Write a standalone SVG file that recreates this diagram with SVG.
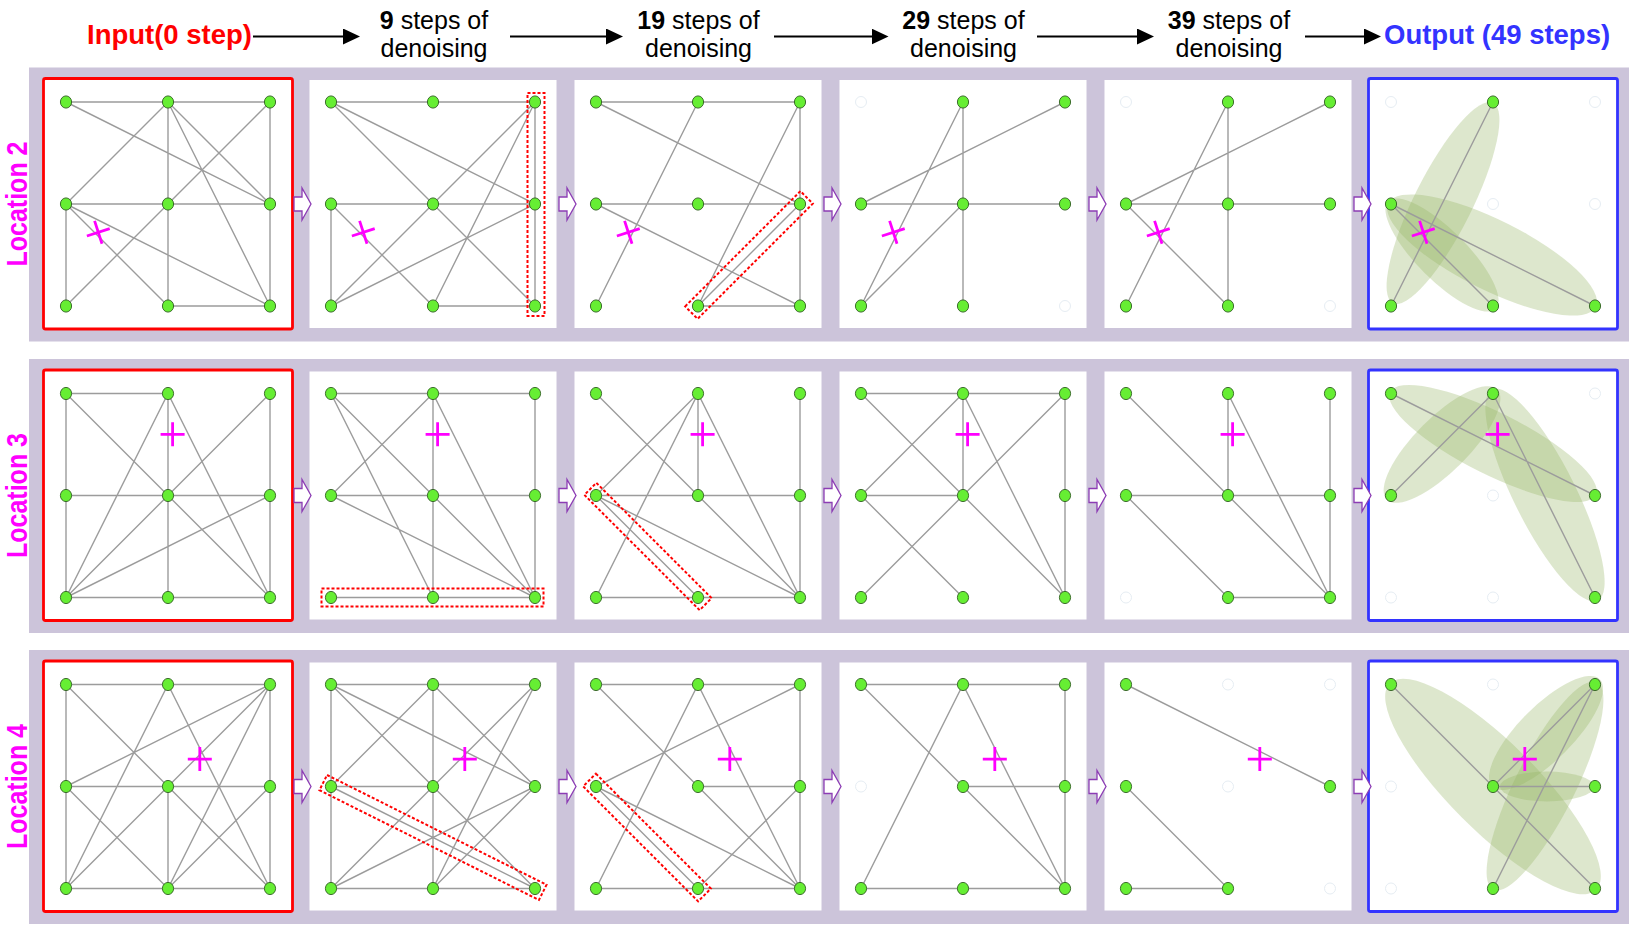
<svg xmlns="http://www.w3.org/2000/svg" xmlns:xlink="http://www.w3.org/1999/xlink" width="1638" height="929" viewBox="0 0 1638 929">
<style>
.band{fill:#ccc4da}
.pw{fill:#fff}
.fr{fill:#fff;stroke:#ff0000;stroke-width:2.8}
.fb{fill:#fff;stroke:#3333ff;stroke-width:2.8}
.e{fill:none;stroke:#9c9c9c;stroke-width:1.4}
.nd{fill:#66ee33;stroke:#2f5f1f;stroke-width:0.9}
.gh{fill:none;stroke:#e6edf3;stroke-width:1}
.cr{fill:none;stroke:#ff00ff;stroke-width:2.8}
.db{fill:none;stroke:#ff0000;stroke-width:2;stroke-dasharray:3 2}
.el{fill:#96b464;fill-opacity:.32}
.pa{fill:#fff;stroke:#8c3cb4;stroke-width:1.3}
.hr{font-family:"Liberation Sans",Arial,sans-serif;font-size:25px;fill:#000}
.hb{font-family:"Liberation Sans",Arial,sans-serif;font-size:27.5px;font-weight:bold}
.loc{font-family:"Liberation Sans",Arial,sans-serif;font-size:25px;font-weight:bold;fill:#ff00ff}
.ar{stroke:#000;stroke-width:2;fill:none}
</style>
<defs>
<marker id="ah" markerUnits="userSpaceOnUse" viewBox="0 0 17 16" refX="11" refY="8" markerWidth="17" markerHeight="16" orient="auto"><path d="M0,0L17,8L0,16z" fill="#000"/></marker>
<ellipse id="n" rx="5.6" ry="6.1" class="nd"/>
<circle id="g" r="5.5" class="gh"/>
<g id="n9">
<use href="#n" x="0" y="0"/><use href="#n" x="102" y="0"/><use href="#n" x="204" y="0"/>
<use href="#n" x="0" y="102"/><use href="#n" x="102" y="102"/><use href="#n" x="204" y="102"/>
<use href="#n" x="0" y="204"/><use href="#n" x="102" y="204"/><use href="#n" x="204" y="204"/>
</g>
<path id="pl" d="M-12,0H12M0,-12V12" class="cr"/>
<path id="sa" d="M0,-7H8V-16L17,0L8,16V7H0Z" class="pa"/>
</defs>

<rect width="1638" height="929" fill="#fff"/>

<g id="bands">
<rect class="band" x="29" y="67.5" width="1600" height="274"/>
<rect class="band" x="29" y="359" width="1600" height="274"/>
<rect class="band" x="29" y="650" width="1600" height="274"/>
</g>

<g id="header">
<text class="hb" x="87" y="43.5" fill="#ff0000">Input(0 step)</text>
<text class="hr" x="434" y="28.5" text-anchor="middle"><tspan font-weight="bold">9</tspan> steps of</text>
<text class="hr" x="434" y="56.5" text-anchor="middle">denoising</text>
<text class="hr" x="698.5" y="28.5" text-anchor="middle"><tspan font-weight="bold">19</tspan> steps of</text>
<text class="hr" x="698.5" y="56.5" text-anchor="middle">denoising</text>
<text class="hr" x="963.5" y="28.5" text-anchor="middle"><tspan font-weight="bold">29</tspan> steps of</text>
<text class="hr" x="963.5" y="56.5" text-anchor="middle">denoising</text>
<text class="hr" x="1229" y="28.5" text-anchor="middle"><tspan font-weight="bold">39</tspan> steps of</text>
<text class="hr" x="1229" y="56.5" text-anchor="middle">denoising</text>
<text class="hb" x="1384" y="43.5" fill="#3333ff">Output (49 steps)</text>
</g>

<g id="labels">
<text class="loc" text-anchor="middle" transform="translate(26.5,204) rotate(-90) scale(1,1.2)">Location 2</text>
<text class="loc" text-anchor="middle" transform="translate(26.5,495.5) rotate(-90) scale(1,1.2)">Location 3</text>
<text class="loc" text-anchor="middle" transform="translate(26.5,786.5) rotate(-90) scale(1,1.2)">Location 4</text>
</g>

<!-- Row 1: Location 2 -->
<g id="r1p1" transform="translate(66,102)">
<rect class="fr" x="-22.5" y="-23.5" width="249" height="250.5" rx="2"/>
<path class="e" d="M0,0L204,0M0,0L204,102M102,0L0,102M102,0L102,204M102,0L204,102M102,0L204,204M204,0L0,204M204,0L204,204M0,102L204,102M0,102L0,204M0,102L102,204M0,102L204,204M102,204L204,204"/>
<use href="#n9"/>
<use href="#pl" transform="translate(32.3,130.3) rotate(-18)"/>
</g>
<g id="r1p2" transform="translate(331,102)">
<rect class="pw" x="-21.5" y="-22" width="247" height="248"/>
<path class="e" d="M0,0L204,0M0,0L204,204M0,0L204,102M204,0L0,204M204,0L102,204M204,0L204,204M0,102L204,102M0,102L0,204M0,102L102,204M204,102L0,204M102,204L204,204"/>
<use href="#n9"/>
<use href="#pl" transform="translate(32.3,130.3) rotate(-18)"/>
<rect class="db" x="196.5" y="-9" width="17" height="223"/>
</g>
<g id="r1p3" transform="translate(596,102)">
<rect class="pw" x="-21.5" y="-22" width="247" height="248"/>
<path class="e" d="M0,0L204,0M0,0L204,102M102,0L0,204M204,0L102,204M204,0L204,204M0,102L204,102M0,102L204,204M204,102L102,204M102,204L204,204"/>
<use href="#n9"/>
<use href="#pl" transform="translate(32.3,130.3) rotate(-18)"/>
<rect class="db" x="-81.5" y="-8.8" width="163" height="17.6" transform="translate(153,153) rotate(-45)"/>
</g>
<g id="r1p4" transform="translate(861,102)">
<rect class="pw" x="-21.5" y="-22" width="247" height="248"/>
<path class="e" d="M102,0L102,204M0,102L204,0M102,0L0,204M0,102L204,102M102,102L0,204"/>
<use href="#g" x="0" y="0"/><use href="#g" x="204" y="204"/>
<use href="#n" x="102" y="0"/><use href="#n" x="204" y="0"/><use href="#n" x="0" y="102"/><use href="#n" x="102" y="102"/><use href="#n" x="204" y="102"/><use href="#n" x="0" y="204"/><use href="#n" x="102" y="204"/>
<use href="#pl" transform="translate(32.3,130.3) rotate(-18)"/>
</g>
<g id="r1p5" transform="translate(1126,102)">
<rect class="pw" x="-21.5" y="-22" width="247" height="248"/>
<path class="e" d="M102,0L102,204M0,102L204,0M102,0L0,204M0,102L204,102M0,102L102,204"/>
<use href="#g" x="0" y="0"/><use href="#g" x="204" y="204"/>
<use href="#n" x="102" y="0"/><use href="#n" x="204" y="0"/><use href="#n" x="0" y="102"/><use href="#n" x="102" y="102"/><use href="#n" x="204" y="102"/><use href="#n" x="0" y="204"/><use href="#n" x="102" y="204"/>
<use href="#pl" transform="translate(32.3,130.3) rotate(-18)"/>
</g>
<g id="r1p6" transform="translate(1391,102)">
<rect class="fb" x="-22.5" y="-23.5" width="249" height="250.5" rx="2"/>
<ellipse class="el" rx="112" ry="29" transform="translate(52,101) rotate(116.57)"/>
<ellipse class="el" rx="116" ry="35" transform="translate(101,153) rotate(26.57)"/>
<ellipse class="el" rx="76" ry="25" transform="translate(51,153) rotate(45)"/>
<path class="e" d="M102,0L0,204M0,102L102,204M0,102L204,204"/>
<use href="#g" x="0" y="0"/><use href="#g" x="204" y="0"/><use href="#g" x="102" y="102"/><use href="#g" x="204" y="102"/>
<use href="#n" x="102" y="0"/><use href="#n" x="0" y="102"/><use href="#n" x="0" y="204"/><use href="#n" x="102" y="204"/><use href="#n" x="204" y="204"/>
<use href="#pl" transform="translate(32.3,130.3) rotate(-18)"/>
</g>

<!-- Row 2: Location 3 -->
<g id="r2p1" transform="translate(66,393.5)">
<rect class="fr" x="-22.5" y="-23.5" width="249" height="250.5" rx="2"/>
<path class="e" d="M0,0L102,0M0,0L0,204M0,0L204,204M102,0L102,204M102,0L0,204M102,0L204,204M204,0L0,204M204,0L204,204M0,102L204,102M204,102L0,204M0,204L204,204"/>
<use href="#n9"/>
<use href="#pl" x="106.6" y="40.8"/>
</g>
<g id="r2p2" transform="translate(331,393.5)">
<rect class="pw" x="-21.5" y="-22" width="247" height="248"/>
<path class="e" d="M0,0L204,0M0,0L102,204M0,0L204,204M102,0L0,102M102,0L102,204M102,0L204,204M204,0L204,204M0,102L204,102M0,102L204,204M0,204L204,204"/>
<use href="#n9"/>
<use href="#pl" x="106.6" y="40.8"/>
<rect class="db" x="-9.5" y="195" width="222" height="18"/>
</g>
<g id="r2p3" transform="translate(596,393.5)">
<rect class="pw" x="-21.5" y="-22" width="247" height="248"/>
<path class="e" d="M0,0L204,204M102,0L0,102M102,0L0,204M102,0L102,102M102,0L204,204M204,0L204,204M0,102L204,102M0,102L102,204M0,102L204,204M0,204L204,204"/>
<use href="#n9"/>
<use href="#pl" x="106.6" y="40.8"/>
<rect class="db" x="-81.5" y="-8.5" width="163" height="17" transform="translate(52,153) rotate(45)"/>
</g>
<g id="r2p4" transform="translate(861,393.5)">
<rect class="pw" x="-21.5" y="-22" width="247" height="248"/>
<path class="e" d="M0,0L204,0M0,0L204,204M102,0L0,102M102,0L102,102M102,0L204,204M204,0L0,204M204,0L204,204M0,102L102,102M0,102L102,204"/>
<use href="#n9"/>
<use href="#pl" x="106.6" y="40.8"/>
</g>
<g id="r2p5" transform="translate(1126,393.5)">
<rect class="pw" x="-21.5" y="-22" width="247" height="248"/>
<path class="e" d="M0,0L204,204M102,0L102,102M102,0L204,204M204,0L204,204M0,102L204,102M0,102L102,204M102,204L204,204"/>
<use href="#g" x="0" y="204"/>
<use href="#n" x="0" y="0"/><use href="#n" x="102" y="0"/><use href="#n" x="204" y="0"/><use href="#n" x="0" y="102"/><use href="#n" x="102" y="102"/><use href="#n" x="204" y="102"/><use href="#n" x="102" y="204"/><use href="#n" x="204" y="204"/>
<use href="#pl" x="106.6" y="40.8"/>
</g>
<g id="r2p6" transform="translate(1391,393.5)">
<rect class="fb" x="-22.5" y="-23.5" width="249" height="250.5" rx="2"/>
<ellipse class="el" rx="115" ry="31" transform="translate(102,50) rotate(26.57)"/>
<ellipse class="el" rx="78" ry="27" transform="translate(51,51) rotate(-45)"/>
<ellipse class="el" rx="118" ry="31" transform="translate(154,101.5) rotate(63.43)"/>
<path class="e" d="M0,0L204,102M102,0L0,102M102,0L204,204"/>
<use href="#g" x="204" y="0"/><use href="#g" x="102" y="102"/><use href="#g" x="0" y="204"/><use href="#g" x="102" y="204"/>
<use href="#n" x="0" y="0"/><use href="#n" x="102" y="0"/><use href="#n" x="0" y="102"/><use href="#n" x="204" y="102"/><use href="#n" x="204" y="204"/>
<use href="#pl" x="106.6" y="40.8"/>
</g>

<!-- Row 3: Location 4 -->
<g id="r3p1" transform="translate(66,684.5)">
<rect class="fr" x="-22.5" y="-23.5" width="249" height="250.5" rx="2"/>
<path class="e" d="M0,0L204,0M0,0L0,204M0,0L204,204M102,0L0,204M102,0L204,204M204,0L0,102M204,0L0,204M204,0L102,204M204,0L204,204M0,102L204,102M0,102L102,204M102,102L102,204M204,102L102,204M0,204L204,204"/>
<use href="#n9"/>
<use href="#pl" x="133.8" y="74.6"/>
</g>
<g id="r3p2" transform="translate(331,684.5)">
<rect class="pw" x="-21.5" y="-22" width="247" height="248"/>
<path class="e" d="M0,0L204,0M0,0L0,204M0,0L204,204M0,0L204,102M102,0L0,102M102,0L102,204M102,0L204,102M204,0L0,204M204,0L102,204M0,102L102,102M0,102L204,204M204,102L0,204M204,102L102,204M0,204L204,204"/>
<use href="#n9"/>
<use href="#pl" x="133.8" y="74.6"/>
<rect class="db" x="-122.7" y="-8.5" width="245.4" height="17" transform="translate(102,153) rotate(26.57)"/>
</g>
<g id="r3p3" transform="translate(596,684.5)">
<rect class="pw" x="-21.5" y="-22" width="247" height="248"/>
<path class="e" d="M0,0L204,0M0,0L204,204M102,0L0,204M102,0L204,204M204,0L0,102M204,0L204,204M102,102L204,102M0,102L102,204M0,102L204,204M204,102L102,204M0,204L204,204"/>
<use href="#n9"/>
<use href="#pl" x="133.8" y="74.6"/>
<rect class="db" x="-81.3" y="-9" width="162.6" height="18" transform="translate(51,153) rotate(45)"/>
</g>
<g id="r3p4" transform="translate(861,684.5)">
<rect class="pw" x="-21.5" y="-22" width="247" height="248"/>
<path class="e" d="M0,0L204,0M0,0L204,204M102,0L0,204M102,0L204,204M204,0L204,204M102,102L204,102M0,204L204,204"/>
<use href="#g" x="0" y="102"/>
<use href="#n" x="0" y="0"/><use href="#n" x="102" y="0"/><use href="#n" x="204" y="0"/><use href="#n" x="102" y="102"/><use href="#n" x="204" y="102"/><use href="#n" x="0" y="204"/><use href="#n" x="102" y="204"/><use href="#n" x="204" y="204"/>
<use href="#pl" x="133.8" y="74.6"/>
</g>
<g id="r3p5" transform="translate(1126,684.5)">
<rect class="pw" x="-21.5" y="-22" width="247" height="248"/>
<path class="e" d="M0,0L204,102M0,102L102,204M0,204L102,204"/>
<use href="#g" x="102" y="0"/><use href="#g" x="204" y="0"/><use href="#g" x="102" y="102"/><use href="#g" x="204" y="204"/>
<use href="#n" x="0" y="0"/><use href="#n" x="0" y="102"/><use href="#n" x="204" y="102"/><use href="#n" x="0" y="204"/><use href="#n" x="102" y="204"/>
<use href="#pl" x="133.8" y="74.6"/>
</g>
<g id="r3p6" transform="translate(1391,684.5)">
<rect class="fb" x="-22.5" y="-23.5" width="249" height="250.5" rx="2"/>
<ellipse class="el" rx="146" ry="44" transform="translate(102,102) rotate(45)"/>
<ellipse class="el" rx="76" ry="27" transform="translate(155,48.5) rotate(-45)"/>
<ellipse class="el" rx="116" ry="30" transform="translate(154,101.5) rotate(-63.43)"/>
<ellipse class="el" rx="47" ry="15" cx="156" cy="102"/>
<path class="e" d="M0,0L204,204M204,0L102,102M204,0L102,204M102,102L204,102"/>
<use href="#g" x="102" y="0"/><use href="#g" x="0" y="102"/><use href="#g" x="0" y="204"/>
<use href="#n" x="0" y="0"/><use href="#n" x="204" y="0"/><use href="#n" x="102" y="102"/><use href="#n" x="204" y="102"/><use href="#n" x="102" y="204"/><use href="#n" x="204" y="204"/>
<use href="#pl" x="133.8" y="74.6"/>
</g>

<g id="connectors">
<line class="ar" x1="253" y1="36.5" x2="354" y2="36.5" marker-end="url(#ah)"/>
<line class="ar" x1="510" y1="36.5" x2="617" y2="36.5" marker-end="url(#ah)"/>
<line class="ar" x1="774" y1="36.5" x2="882.5" y2="36.5" marker-end="url(#ah)"/>
<line class="ar" x1="1037" y1="36.5" x2="1148" y2="36.5" marker-end="url(#ah)"/>
<line class="ar" x1="1305" y1="36.5" x2="1375" y2="36.5" marker-end="url(#ah)"/>
<use href="#sa" x="294" y="204"/><use href="#sa" x="559" y="204"/><use href="#sa" x="824" y="204"/><use href="#sa" x="1089" y="204"/><use href="#sa" x="1354" y="204"/>
<use href="#sa" x="294" y="495.5"/><use href="#sa" x="559" y="495.5"/><use href="#sa" x="824" y="495.5"/><use href="#sa" x="1089" y="495.5"/><use href="#sa" x="1354" y="495.5"/>
<use href="#sa" x="294" y="786.5"/><use href="#sa" x="559" y="786.5"/><use href="#sa" x="824" y="786.5"/><use href="#sa" x="1089" y="786.5"/><use href="#sa" x="1354" y="786.5"/>
</g>
</svg>
